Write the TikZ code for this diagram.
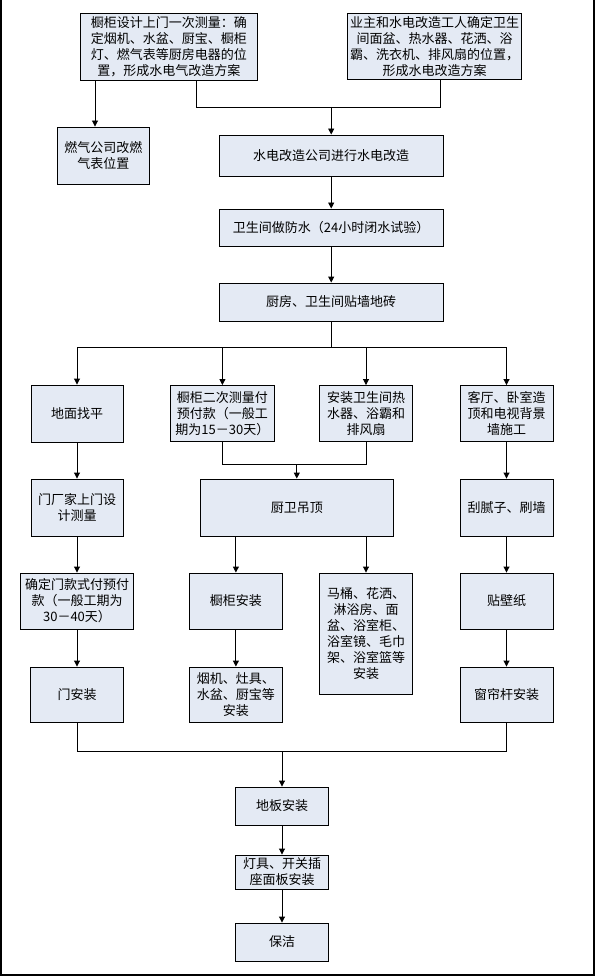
\documentclass[tikz,border=0pt]{standalone}
\usepackage{fontspec}
\newfontfamily\cjk{Noto Sans CJK SC}
\usetikzlibrary{arrows.meta}
\definecolor{boxfill}{RGB}{228,234,244}
\tikzset{
  box/.style={draw=black, line width=0.9pt, fill=boxfill, rectangle, inner sep=0pt, align=center,
    font=\cjk\fontsize{13}{16}\selectfont},
  conn/.style={draw=black, line width=0.9pt},
  arr/.style={conn, -{Triangle[length=6pt,width=6pt]}},
}
\begin{document}
\begin{tikzpicture}[x=1pt,y=-1pt]
\useasboundingbox (0,0) rectangle (595,976);
\draw[line width=1.5pt] (0.8,0) -- (0.8,975) -- (594,975) -- (594,0);
% row 0
\node[box, minimum width=177pt, minimum height=67pt] (A) at (168.9,46.5) {橱柜设计上门一次测量：确\\定烟机、水盆、厨宝、橱柜\\灯、燃气表等厨房电器的位\\置，形成水电气改造方案};
\node[box, minimum width=174pt, minimum height=66pt] (B) at (434.7,46.5) {业主和水电改造工人确定卫生\\间面盆、热水器、花洒、浴\\霸、洗衣机、排风扇的位置，\\形成水电改造方案};
\node[box, minimum width=91.4pt, minimum height=57pt] (C) at (103.4,155.5) {燃气公司改燃\\气表位置};
\node[box, minimum width=224.3pt, minimum height=41pt] (D) at (331.2,155.5) {水电改造公司进行水电改造};
\node[box, minimum width=224.3pt, minimum height=37pt] (E) at (331.2,227.5) {卫生间做防水（24小时闭水试验）};
\node[box, minimum width=224.3pt, minimum height=38pt] (F) at (331.2,302) {厨房、卫生间贴墙地砖};
% row 1
\node[box, minimum width=92pt, minimum height=57pt] (G) at (77,413.5) {地面找平};
\node[box, minimum width=104pt, minimum height=56pt] (H) at (222.4,413.5) {橱柜二次测量付\\预付款（一般工\\期为15－30天）};
\node[box, minimum width=93pt, minimum height=56pt] (I) at (366,413.5) {安装卫生间热\\水器、浴霸和\\排风扇};
\node[box, minimum width=93pt, minimum height=56pt] (J) at (506.5,413.5) {客厅、卧室造\\顶和电视背景\\墙施工};
% row 2
\node[box, minimum width=92pt, minimum height=57pt] (L) at (77,507.5) {门厂家上门设\\计测量};
\node[box, minimum width=193.5pt, minimum height=57pt] (K) at (296.8,507.5) {厨卫吊顶};
\node[box, minimum width=93pt, minimum height=57pt] (M) at (506.5,507.5) {刮腻子、刷墙};
% row 3
\node[box, minimum width=112.3pt, minimum height=56pt] (N) at (77,601) {确定门款式付预付\\款（一般工期为\\30－40天）};
\node[box, minimum width=93pt, minimum height=56pt] (O) at (235.9,601) {橱柜安装};
\node[box, minimum width=93pt, minimum height=121pt] (P) at (366,633.5) {马桶、花洒、\\淋浴房、面\\盆、浴室柜、\\浴室镜、毛巾\\架、浴室篮等\\安装};
\node[box, minimum width=93pt, minimum height=56pt] (Q) at (506.5,601) {贴壁纸};
% row 4
\node[box, minimum width=93pt, minimum height=55pt] (R) at (77,694.5) {门安装};
\node[box, minimum width=93pt, minimum height=55pt] (S) at (235.9,694.5) {烟机、灶具、\\水盆、厨宝等\\安装};
\node[box, minimum width=93pt, minimum height=55pt] (T) at (506.5,694.5) {窗帘杆安装};
% bottom
\node[box, minimum width=93.3pt, minimum height=38pt] (U) at (282,806) {地板安装};
\node[box, minimum width=93.3pt, minimum height=34pt] (V) at (282,872) {灯具、开关插\\座面板安装};
\node[box, minimum width=93.3pt, minimum height=38pt] (W) at (282,942) {保洁};
% junctions
\coordinate (xac) at (95,0);
\coordinate (j1) at (331.2,107);
\coordinate (j2) at (331.2,347);
\coordinate (j3) at (296.8,464);
\coordinate (j4) at (282,751);
% connectors
\draw[arr] (A.south -| xac) -- (C.north -| xac);
\draw[conn] ([xshift=27.3pt]A.south) |- (j1);
\draw[conn] ([xshift=5.5pt]B.south) |- (j1);
\draw[arr] (j1) -- (D.north);
\draw[arr] (D) -- (E);
\draw[arr] (E) -- (F);
\draw[conn] (F.south) -- (j2);
\foreach \n in {G,H,I,J} \draw[arr] (j2) -| (\n.north);
\draw[conn] (H.south) |- (j3);
\draw[conn] (I.south) |- (j3);
\draw[arr] (j3) -- (K.north);
\draw[arr] (G) -- (L);
\draw[arr] (L) -- (N);
\draw[arr] (N) -- (R);
\draw[arr] (J) -- (M);
\draw[arr] (M) -- (Q);
\draw[arr] (Q) -- (T);
\draw[arr] (K.south -| O.north) -- (O.north);
\draw[arr] (K.south -| P.north) -- (P.north);
\draw[arr] (O) -- (S);
\draw[conn] (R.south) |- (j4);
\draw[conn] (T.south) |- (j4);
\draw[arr] (j4) -- (U.north);
\draw[arr] (U) -- (V);
\draw[arr] (V) -- (W);
\end{tikzpicture}
\end{document}
